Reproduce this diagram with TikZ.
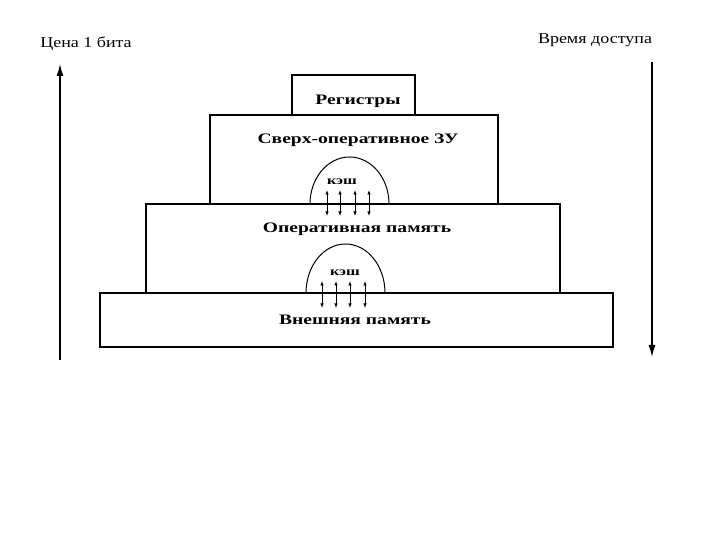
\documentclass[tikz,border=0pt]{standalone}
\usepackage{fontspec}
\setmainfont{Liberation Serif}
\newfontfamily\lblfont[FakeStretch=1.2]{Liberation Serif}
\newfontfamily\boxfont[FakeStretch=1.35]{Liberation Serif Bold}
\usetikzlibrary{arrows.meta}
\begin{document}
\begin{tikzpicture}[x=1pt,y=1pt,
  box/.style={draw,line width=1.4pt,inner sep=0pt},
  boxtext/.style={font=\boxfont\fontsize{14.5}{16}\selectfont,inner sep=0pt},
  cachetext/.style={font=\boxfont\fontsize{12}{13}\selectfont,inner sep=0pt},
  sidetext/.style={font=\lblfont\fontsize{15}{17}\selectfont,inner sep=0pt},
  dome/.style={line width=1pt},
  xfer/.style={line width=0.8pt,{Latex[length=4.5pt,width=3.5pt]}-{Latex[length=4.5pt,width=3.5pt]}},
  axis/.style={line width=1.3pt,-{Latex[length=12pt,width=7pt]}}]
\useasboundingbox (0,0) rectangle (720,540);
% boxes
\node[box,minimum width=123pt,minimum height=40pt] (reg) at (353.5,445) {};
\node[box,minimum width=288pt,minimum height=89pt] (sozu) at (354,380.5) {};
\node[box,minimum width=414pt,minimum height=89pt] (op) at (353,291.5) {};
\node[box,minimum width=513pt,minimum height=54pt] (ext) at (356.5,220) {};
% labels
\node[boxtext] (tReg) at (358,439) {Регистры};
\node[boxtext] (tSozu) at (358,400) {Сверх-оперативное ЗУ};
\node[boxtext] (tOp) at (357,311) {Оперативная память};
\node[boxtext] (tExt) at (355,220) {Внешняя память};
% caches
\draw[dome] (310,336) arc[start angle=180,end angle=0,x radius=39.5pt,y radius=47pt];
\draw[dome] (306,247) arc[start angle=180,end angle=0,x radius=39.5pt,y radius=49pt];
\node[cachetext] (c1) at (342,358) {кэш};
\node[cachetext] (c2) at (345,267) {кэш};
\foreach \i/\x in {1/327,2/340,3/355,4/369}{
  \coordinate (u\i) at (\x,350); \coordinate (d\i) at (\x,324);
  \draw[xfer] (u\i) -- (d\i);}
\foreach \i/\x in {1/322,2/336,3/350,4/365}{
  \coordinate (v\i) at (\x,259); \coordinate (w\i) at (\x,232);
  \draw[xfer] (v\i) -- (w\i);}
% side axes
\coordinate (lb) at (60,180); \coordinate (lt) at (60,476);
\coordinate (rt) at (652,478); \coordinate (rb) at (652,183);
\draw[axis] (lb) -- (lt);
\draw[axis] (rt) -- (rb);
\node[sidetext] (price) at (86,496) {Цена 1 бита};
\node[sidetext] (time) at (595,500) {Время доступа};
\end{tikzpicture}
\end{document}
